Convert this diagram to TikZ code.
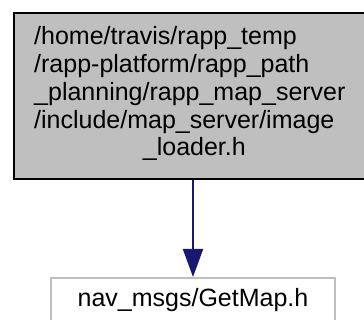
\documentclass[tikz,border=0pt]{standalone}
\usepackage{fontspec}
\setmainfont{Liberation Sans}
\usetikzlibrary{arrows.meta}
\definecolor{boxgray}{HTML}{BFBFBF}
\definecolor{edgeblue}{HTML}{191970}
\tikzset{
  mainbox/.style={draw=black, fill=boxgray, line width=2.5pt, inner sep=0pt, minimum width=358pt, minimum height=166pt},
  filebox/.style={draw=boxgray, fill=white, line width=2pt, inner sep=0pt, minimum width=284pt, minimum height=44pt, font=\fontsize{25}{27.75}\selectfont},
  labeltext/.style={inner sep=0pt, anchor=base west, font=\fontsize{25}{27.75}\selectfont},
  incedge/.style={draw=edgeblue, line width=2pt, -{Triangle[length=28pt,width=20pt,fill=edgeblue]}}
}
\begin{document}
\begin{tikzpicture}[x=1pt,y=-1pt]
\useasboundingbox (0,0) rectangle (364,320);
\clip (0,0) rectangle (364,320);
\node[mainbox] (top) at (193,96) {};
\node[labeltext] (toplabel) at (34,45) {\begin{tabular}[t]{@{}l@{}}
/home/travis/rapp\_temp\\
/rapp-platform/rapp\_path\\
\_planning/rapp\_map\_server\\
/include/map\_server/image\\
\multicolumn{1}{@{}c@{}}{\hspace{9pt}\_loader.h}
\end{tabular}};
\node[filebox] (bot) at (193,300) {nav\_msgs/GetMap.h};
\draw[incedge] (top.south) -- (bot.north);
\end{tikzpicture}
\end{document}
